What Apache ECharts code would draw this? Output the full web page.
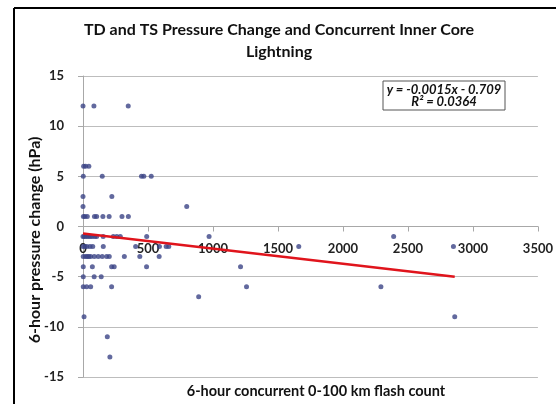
<!DOCTYPE html>
<html>
<head>
<meta charset="utf-8">
<script src="https://cdn.jsdelivr.net/npm/echarts@6/dist/echarts.min.js"></script>
<style>
  html, body { margin: 0; padding: 0; background: #fff; }
  #chart { width: 556px; height: 404px; }
</style>
</head>
<body>
<div id="chart"></div>
<script>
// pressure change rows (hPa) and the flash counts observed at each
const pressureRows = [12, 6, 5, 3, 2, 1, -1, -2, -3, -4, -5, -6, -7, -9, -11, -13]
const flashCounts = [
  [0, 84, 348],
  [5, 20, 45],
  [2, 148, 450, 468, 525],
  [0, 222],
  [0, 798],
  [3, 15, 33, 88, 105, 153, 201, 300, 349],
  [0, 10, 25, 40, 55, 70, 90, 105, 155, 233, 260, 287, 490, 970, 2390],
  [0, 15, 30, 54, 75, 156, 405, 588, 640, 660, 1660, 2850],
  [2, 20, 33, 45, 59, 87, 117, 148, 182, 202, 318, 437, 586],
  [2, 72, 220, 240, 489, 1212],
  [2, 86, 140],
  [2, 28, 59, 220, 1258, 2292],
  [890],
  [8, 2860],
  [187],
  [207]
]
// linear trendline as printed on the chart
const slope = -0.0015
const intercept = -0.709
const trendX = [0, 2860]
const xTicks = [0, 500, 1000, 1500, 2000, 2500, 3000, 3500]
const yTicks = [-15, -10, -5, 0, 5, 10, 15]

const points = []
pressureRows.forEach((p, i) => {
  flashCounts[i].forEach(c => points.push([c, p]))
})
const trend = trendX.map(x => [x, slope * x + intercept])

const myChart = echarts.init(document.getElementById('chart'))
myChart.setOption({
  animation: false,
  backgroundColor: '#fff',
  title: [{
    text: 'TD and TS Pressure Change and Concurrent Inner Core\nLightning',
    left: 274,
    top: 14,
    textAlign: 'center',
    textStyle: {
      fontFamily: 'Lato',
      fontWeight: 'bold',
      fontSize: 16,
      lineHeight: 22,
      color: '#111'
    }
  }, {
    text: '6-hour concurrent 0-100 km flash count',
    left: 311,
    top: 379,
    textAlign: 'center',
    textStyle: {
      fontFamily: 'Lato',
      fontWeight: 'bold',
      fontSize: 14.5,
      color: '#111'
    }
  }],
  grid: {
    left: 83,
    right: 17,
    top: 76,
    bottom: 27
  },
  xAxis: {
    type: 'value',
    min: xTicks[0],
    max: xTicks[xTicks.length - 1],
    interval: 500,
    offset: -150.5,
    axisLine: { onZero: false, lineStyle: { color: '#a8a8a8' } },
    axisTick: { show: true, length: 5, lineStyle: { color: '#a8a8a8' } },
    axisLabel: {
      showMinLabel: true,
      showMaxLabel: true,
      margin: 16,
      formatter: v => String(v),
      fontFamily: 'Lato',
      fontWeight: 'bold',
      fontSize: 13,
      color: '#222'
    },
    splitLine: { show: false }
  },
  yAxis: {
    type: 'value',
    min: yTicks[0],
    max: yTicks[yTicks.length - 1],
    interval: 5,
    axisLine: { show: true, onZero: false, lineStyle: { color: '#a8a8a8' } },
    axisTick: { show: true, length: 5, lineStyle: { color: '#a8a8a8' } },
    axisLabel: {
      margin: 19,
      fontFamily: 'Lato',
      fontWeight: 'bold',
      fontSize: 13,
      color: '#222'
    },
    splitLine: { show: true, lineStyle: { color: '#bdbdbd' } }
  },
  graphic: [{
    type: 'line',
    shape: { x1: 14, y1: 8, x2: 14, y2: 404 },
    style: { stroke: '#000', lineWidth: 2 }
  }, {
    type: 'line',
    shape: { x1: 14, y1: 8, x2: 556, y2: 8 },
    style: { stroke: '#000', lineWidth: 2 }
  }, {
    type: 'text',
    x: 35,
    y: 240,
    rotation: Math.PI / 2,
    style: {
      text: '6-hour pressure change (hPa)',
      align: 'center',
      verticalAlign: 'middle',
      fontFamily: 'Lato',
      fontWeight: 'bold',
      fontSize: 16,
      fill: '#111'
    }
  }, {
    type: 'rect',
    shape: { x: 383, y: 81, width: 122, height: 29 },
    style: { fill: '#fff', stroke: '#555', lineWidth: 1 },
    z: 10
  }, {
    type: 'text',
    x: 444,
    y: 96,
    style: {
      text: 'y = -0.0015x - 0.709\nR² = 0.0364',
      align: 'center',
      verticalAlign: 'middle',
      fontFamily: 'Lato',
      fontStyle: 'italic',
      fontWeight: 'bold',
      fontSize: 13,
      lineHeight: 11.5,
      fill: '#111'
    },
    z: 11
  }],
  series: [{
    type: 'scatter',
    data: points,
    symbol: 'circle',
    symbolSize: 5,
    itemStyle: { color: '#3b4486' },
    z: 3
  }, {
    type: 'line',
    data: trend,
    symbol: 'none',
    lineStyle: { color: '#e0141c', width: 2.5 },
    z: 4
  }]
})
</script>
</body>
</html>
